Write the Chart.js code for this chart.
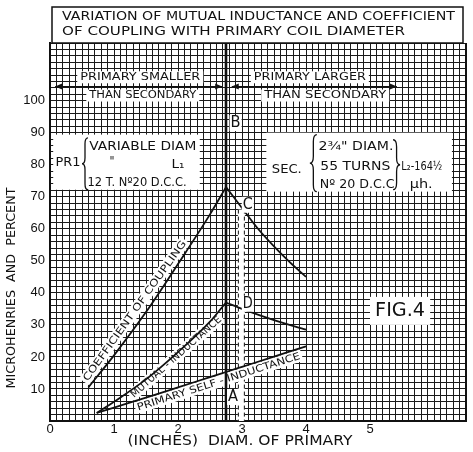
<!DOCTYPE html>
<html>
<head>
<meta charset="utf-8">
<script src="https://cdn.jsdelivr.net/npm/chart.js@4"></script>
<style>
  html, body { margin: 0; padding: 0; background: #fff; }
  #chart { display: block; }
</style>
</head>
<body>
<canvas id="chart" width="473" height="452"></canvas>
<script>
// values (x = primary diameter in inches)
const couplingRiseDiam = [0.6, 1.0, 1.5, 2.0, 2.5, 2.75];
const couplingRise = [10.5, 20.5, 34, 49, 64.5, 73];
const couplingFallDiam = [2.75, 3.0, 3.25, 3.5, 3.75, 4.0];
const couplingFall = [73, 66.5, 60, 54.5, 49.5, 45];

const mutualRiseDiam = [0.73, 1.0, 1.5, 2.0, 2.5, 2.75];
const mutualRise = [2.5, 6, 13, 21.5, 31, 37];
const mutualFallDiam = [2.75, 3.0, 3.5, 4.0];
const mutualFall = [37, 35, 31.5, 28.5];

const selfDiam = [0.73, 1.0, 1.5, 2.0, 2.5, 2.75, 3.0, 3.5, 4.0];
const selfInd = [2.5, 4.2, 7.3, 10.5, 13.7, 15.3, 16.9, 20.1, 23.3];

const xTickLabels = [0, 1, 2, 3, 4, 5];
const yTickLabels = [10, 20, 30, 40, 50, 60, 70, 80, 90, 100];

const secondaryDiam = 2.75;

const FONT = '"DejaVu Sans"';

function pts(xs, ys) {
  return xs.map((x, i) => ({ x: x, y: ys[i] }));
}

function curveLine(xs, ys) {
  return {
    data: pts(xs, ys),
    borderColor: '#111',
    borderWidth: 1.8,
    pointRadius: 0,
    cubicInterpolationMode: 'monotone',
    fill: false
  };
}

function interp(xs, ys, x) {
  for (let i = 0; i < xs.length - 1; i++) {
    if (x >= xs[i] && x <= xs[i + 1]) {
      const t = (x - xs[i]) / (xs[i + 1] - xs[i]);
      return ys[i] + t * (ys[i + 1] - ys[i]);
    }
  }
  return x < xs[0] ? ys[0] : ys[ys.length - 1];
}

// draw text stretched to a given width
function fit(ctx, s, cx, cy, w, size) {
  ctx.font = size + 'px ' + FONT;
  const m = ctx.measureText(s).width;
  ctx.save();
  ctx.translate(cx, cy);
  ctx.scale(w / m, 1);
  ctx.textAlign = 'center';
  ctx.textBaseline = 'middle';
  ctx.fillStyle = '#111';
  ctx.fillText(s, 0, 0);
  ctx.restore();
}

function whiteRect(ctx, x0, y0, x1, y1) {
  ctx.fillStyle = '#fff';
  ctx.fillRect(Math.min(x0, x1), Math.min(y0, y1), Math.abs(x1 - x0), Math.abs(y1 - y0));
}

// s = 1 for "{", -1 for "}"
function brace(ctx, tipX, y0, y1, w, s) {
  const sp = tipX + s * w / 2, ex = tipX + s * w, ym = (y0 + y1) / 2;
  ctx.beginPath();
  ctx.moveTo(ex, y0);
  ctx.quadraticCurveTo(sp, y0, sp, y0 + w);
  ctx.lineTo(sp, ym - w);
  ctx.quadraticCurveTo(sp, ym, tipX, ym);
  ctx.quadraticCurveTo(sp, ym, sp, ym + w);
  ctx.lineTo(sp, y1 - w);
  ctx.quadraticCurveTo(sp, y1, ex, y1);
  ctx.strokeStyle = '#111';
  ctx.lineWidth = 1.3;
  ctx.stroke();
}

function arrow(ctx, x0, x1, y) {
  ctx.strokeStyle = '#111';
  ctx.fillStyle = '#111';
  ctx.lineWidth = 1.3;
  ctx.beginPath();
  ctx.moveTo(x0, y);
  ctx.lineTo(x1, y);
  ctx.stroke();
  [[x0, 1], [x1, -1]].forEach(([x, d]) => {
    ctx.beginPath();
    ctx.moveTo(x, y);
    ctx.lineTo(x + d * 7, y - 3);
    ctx.lineTo(x + d * 7, y + 3);
    ctx.closePath();
    ctx.fill();
  });
}

// white strip with lettering running along a curve
function curveLabel(chart, xs, ys, xa, xb, off, text, size) {
  const ctx = chart.ctx, sx = chart.scales.x, sy = chart.scales.y;
  const p0 = { x: sx.getPixelForValue(xa), y: sy.getPixelForValue(interp(xs, ys, xa)) };
  const p1 = { x: sx.getPixelForValue(xb), y: sy.getPixelForValue(interp(xs, ys, xb)) };
  const a = Math.atan2(p1.y - p0.y, p1.x - p0.x);
  const len = Math.hypot(p1.x - p0.x, p1.y - p0.y);
  const cx = (p0.x + p1.x) / 2 + Math.sin(a) * off;
  const cy = (p0.y + p1.y) / 2 - Math.cos(a) * off;
  ctx.save();
  ctx.translate(cx, cy);
  ctx.rotate(a);
  ctx.fillStyle = '#fff';
  ctx.fillRect(-len / 2, -6, len, 12);
  fit(ctx, text, 0, 0.5, len - 4, size);
  ctx.restore();
}

const annotations = {
  id: 'annotations',
  beforeDraw(chart) {
    const ctx = chart.ctx;
    ctx.save();
    ctx.fillStyle = '#fff';
    ctx.fillRect(0, 0, chart.width, chart.height);
    ctx.restore();
  },
  beforeDatasetsDraw(chart) {
    const ctx = chart.ctx, sx = chart.scales.x, sy = chart.scales.y, a = chart.chartArea;
    const X = v => sx.getPixelForValue(v), Y = v => sy.getPixelForValue(v);
    ctx.save();

    // primary coil box
    whiteRect(ctx, X(0.05), Y(89.4), X(2.34), Y(72.2));
    fit(ctx, 'PR1', X(0.28), Y(80.6), 25, 13);
    brace(ctx, X(0.5), Y(88.4), Y(72.2), 6, 1);
    fit(ctx, 'VARIABLE DIAM', X(1.45), Y(85.6), 107, 13);
    fit(ctx, '"', X(0.97), Y(81), 5, 12);
    fit(ctx, 'L\u2081', X(2.0), Y(80), 13, 13);
    fit(ctx, '12 T. N\u00BA20 D.C.C.', X(1.36), Y(74.4), 99, 12);

    // secondary coil box
    whiteRect(ctx, X(3.38), Y(90), X(6.28), Y(71.6));
    fit(ctx, 'SEC.', X(3.7), Y(78.4), 30, 13);
    brace(ctx, X(4.06), Y(89.4), Y(71.6), 7, 1);
    fit(ctx, '2\u00BE" DIAM.', X(4.78), Y(85.6), 75, 13);
    fit(ctx, '55 TURNS', X(4.77), Y(79.4), 70, 13);
    fit(ctx, 'N\u00BA 20 D.C.C', X(4.8), Y(73.75), 75, 13);
    brace(ctx, X(5.47), Y(87.8), Y(72.2), 7, -1);
    fit(ctx, 'L\u2082-164\u00BD', X(5.81), Y(79.4), 41, 12);
    fit(ctx, '\u03BCh.', X(5.8), Y(73.75), 23, 12);

    // smaller / larger headers
    [[1.41, 107.3, 120, 'PRIMARY SMALLER'], [1.45, 101.6, 107, 'THAN SECONDARY'],
     [4.06, 107.3, 112, 'PRIMARY LARGER'], [4.3, 101.6, 122, 'THAN SECONDARY']].forEach(([x, y, w, s]) => {
      whiteRect(ctx, X(x) - w / 2 - 3, Y(y) - 6, X(x) + w / 2 + 3, Y(y) + 6);
      fit(ctx, s, X(x), Y(y), w, 11);
    });
    arrow(ctx, X(0.08), X(2.69), Y(104.4));
    arrow(ctx, X(2.84), X(5.42), Y(104.4));

    // fig box
    whiteRect(ctx, X(5.0), Y(38.75), X(5.94), Y(30));
    fit(ctx, 'FIG.4', X(5.47), Y(34.4), 50, 20);

    // dashed white strip at 3 in.
    const dx = X(2.99);
    whiteRect(ctx, dx - 3.5, Y(66), dx + 3.5, a.bottom);
    ctx.setLineDash([4, 3]);
    ctx.strokeStyle = '#111';
    ctx.lineWidth = 1;
    [dx - 3, dx + 3].forEach(x => {
      ctx.beginPath();
      ctx.moveTo(x, Y(66));
      ctx.lineTo(x, a.bottom);
      ctx.stroke();
    });
    ctx.setLineDash([]);

    // lettering along the curves
    curveLabel(chart, couplingRiseDiam, couplingRise, 0.62, 2.2, 7, 'COEFFICIENT OF COUPLING', 10);
    curveLabel(chart, mutualRiseDiam, mutualRise, 1.2, 2.62, -5.5, 'MUTUAL - INDUCTANCE', 10);
    curveLabel(chart, selfDiam, selfInd, 1.3, 3.9, -7, 'PRIMARY SELF - INDUCTANCE', 10);

    // secondary diameter line
    ctx.strokeStyle = '#111';
    ctx.lineWidth = 2.6;
    ctx.beginPath();
    ctx.moveTo(X(secondaryDiam), a.top);
    ctx.lineTo(X(secondaryDiam), a.bottom);
    ctx.stroke();

    // right frame
    ctx.lineWidth = 2;
    ctx.beginPath();
    ctx.moveTo(a.right, a.top);
    ctx.lineTo(a.right, a.bottom);
    ctx.stroke();
    ctx.restore();
  },
  afterDatasetsDraw(chart) {
    const ctx = chart.ctx, sx = chart.scales.x, sy = chart.scales.y;
    const X = v => sx.getPixelForValue(v), Y = v => sy.getPixelForValue(v);
    ctx.save();
    [['A', 2.86, 7.5], ['B', 2.9, 93], ['C', 3.09, 67.5], ['D', 3.09, 36.6]].forEach(([s, x, y]) => {
      whiteRect(ctx, X(x) - 6, Y(y) - 8, X(x) + 6, Y(y) + 8);
      fit(ctx, s, X(x), Y(y), 10, 15);
    });

    // title box
    ctx.fillStyle = '#fff';
    ctx.fillRect(52, 7, 411, 36);
    ctx.strokeStyle = '#111';
    ctx.lineWidth = 1.5;
    ctx.strokeRect(52, 7, 411, 36);
    fit(ctx, 'VARIATION OF MUTUAL INDUCTANCE AND COEFFICIENT', 258.5, 17, 393, 12);
    fit(ctx, 'OF COUPLING WITH PRIMARY COIL DIAMETER', 233.5, 32, 343, 12);

    // axis titles
    fit(ctx, '(INCHES)  DIAM. OF PRIMARY', 240, 441, 225, 14);
    ctx.save();
    ctx.translate(12, 288);
    ctx.rotate(-Math.PI / 2);
    fit(ctx, 'MICROHENRIES  AND  PERCENT', 0, 0, 201, 12);
    ctx.restore();
    ctx.restore();
  }
};

new Chart(document.getElementById('chart'), {
  type: 'line',
  data: {
    datasets: [
      curveLine(couplingRiseDiam, couplingRise),
      curveLine(couplingFallDiam, couplingFall),
      curveLine(mutualRiseDiam, mutualRise),
      curveLine(mutualFallDiam, mutualFall),
      curveLine(selfDiam, selfInd)
    ]
  },
  options: {
    responsive: false,
    animation: false,
    layout: { padding: { top: 43, right: 7, left: 0, bottom: 0 } },
    plugins: { legend: { display: false }, tooltip: { enabled: false } },
    scales: {
      x: {
        type: 'linear',
        min: 0,
        max: 6.5,
        afterFit: s => { s.height = 31; },
        grid: { color: '#1a1a1a', lineWidth: 1, drawTicks: false },
        border: { color: '#111', width: 2 },
        ticks: {
          stepSize: 0.1,
          autoSkip: false,
          maxRotation: 0,
          padding: 1,
          color: '#111',
          font: { family: 'Liberation Sans', size: 13 },
          callback: v => {
            const r = Math.round(v);
            return Math.abs(v - r) < 1e-6 && xTickLabels.includes(r) ? String(r) : '';
          }
        }
      },
      y: {
        min: 0,
        max: 118,
        afterFit: s => { s.width = 50; },
        grid: { color: '#1a1a1a', lineWidth: 1, drawTicks: false },
        border: { color: '#111', width: 2 },
        ticks: {
          stepSize: 2,
          autoSkip: false,
          padding: 5,
          color: '#111',
          font: { family: 'Liberation Sans', size: 13 },
          callback: v => yTickLabels.includes(v) ? String(v) : ''
        }
      }
    }
  },
  plugins: [annotations]
});
</script>
</body>
</html>
